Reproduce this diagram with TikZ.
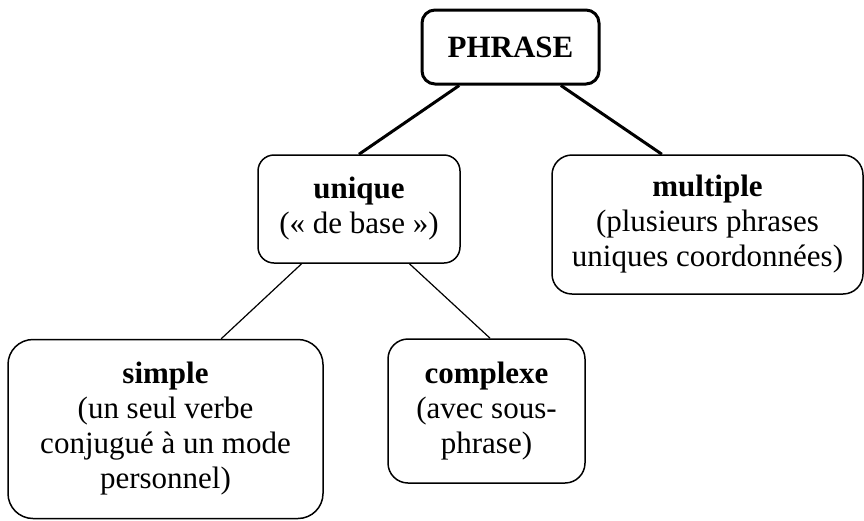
\documentclass[tikz,border=0pt]{standalone}
\usepackage{fontspec}
\setmainfont{Liberation Serif}
\usetikzlibrary{calc}

\begin{document}
\begin{tikzpicture}[x=1pt, y=-1pt]
      % Node style
      \tikzset{
        box/.style={draw, rounded corners=16pt, line width=1.5pt, align=center, inner sep=0pt,
          font=\fontsize{31}{35}\selectfont},
      }
      \useasboundingbox (0,0) rectangle (864,520);
      % Nodes
      \node (phrase) [box, line width=3pt, rounded corners=13pt, minimum width=177pt, minimum height=74pt] at (510.5,47) {\textbf{PHRASE}};
      \node (unique) [box, minimum width=202pt, minimum height=108pt] at (359,209) {\textbf{unique}\\(« de base »)};
      \node (multiple) [box, rounded corners=20pt, minimum width=311pt, minimum height=139pt] at (707.5,224.5) {\textbf{multiple}\\(plusieurs phrases\\uniques coordonnées)};
      \node (simple) [box, rounded corners=25pt, minimum width=315pt, minimum height=179pt] at (165.5,429) {\textbf{simple}\\(un seul verbe\\conjugué à un mode\\personnel)};
      \node (complexe) [box, rounded corners=20pt, minimum width=197pt, minimum height=144pt] at (486.5,411) {\textbf{complexe}\\(avec sous-\\phrase)};
      % Lines
      \draw[line width=3pt] ($(phrase.south west)!0.215!(phrase.south east)$) -- (unique.north);
      \draw[line width=3pt] ($(phrase.south west)!0.78!(phrase.south east)$) -- ($(multiple.north west)!0.354!(multiple.north east)$);
      \draw[line width=1.2pt] ($(unique.south west)!0.218!(unique.south east)$) -- ($(simple.north west)!0.676!(simple.north east)$);
      \draw[line width=1.2pt] ($(unique.south west)!0.748!(unique.south east)$) -- ($(complexe.north west)!0.518!(complexe.north east)$);
    \end{tikzpicture}
\end{document}
